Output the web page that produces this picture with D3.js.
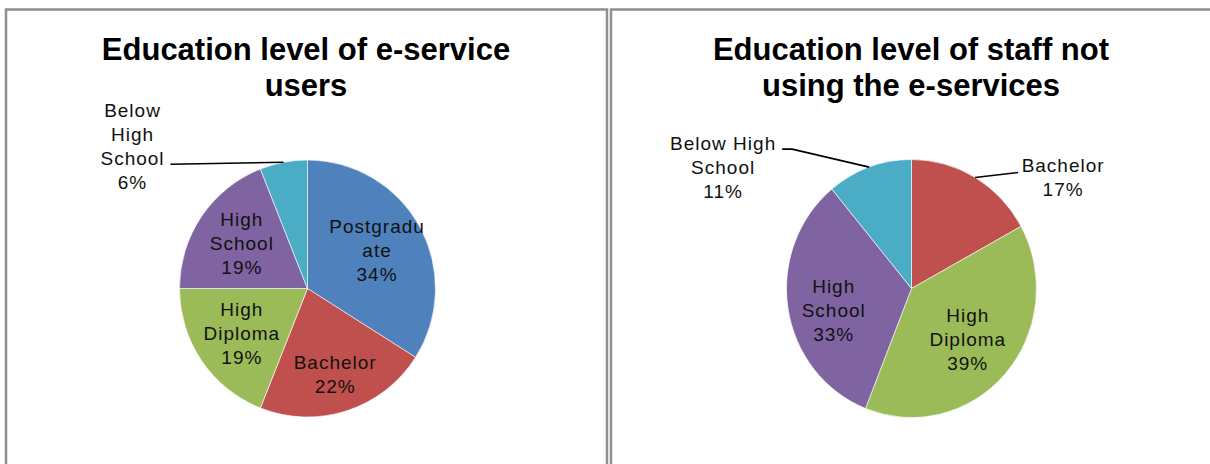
<!DOCTYPE html>
<meta charset="utf-8">
<head>
<style>
body { margin: 0; background: #fff; }
.title {
  font-family: "Liberation Sans", Arial, sans-serif;
  font-size: 31px;
  font-weight: bold;
  text-anchor: middle;
  fill: #000;
}
.label {
  font-family: "Liberation Sans", Arial, sans-serif;
  font-size: 19px;
  letter-spacing: 1px;
  text-anchor: middle;
  fill: #111;
}
.frame { fill: none; stroke: #8f8f8f; stroke-width: 2.5; }
.leader { fill: none; stroke: #000; stroke-width: 1.6; }
</style>
</head>
<body>
<svg width="1210" height="464"></svg>
<script src="https://cdn.jsdelivr.net/npm/d3@7"></script>
<script>

// chart 1: e-service users
var usersCategories = ["Postgraduate", "Bachelor", "High Diploma", "High School", "Below High School"],
    usersValues = [34, 22, 19, 19, 6],
    usersLabels = [["Postgradu", "ate"], ["Bachelor"], ["High", "Diploma"], ["High", "School"], ["Below", "High", "School"]];

// chart 2: staff not using the e-services
var staffCategories = ["Bachelor", "High Diploma", "High School", "Below High School"],
    staffValues = [17, 39, 33, 11],
    staffLabels = [["Bachelor"], ["High", "Diploma"], ["High", "School"], ["Below High", "School"]];

var colors = {
  "Postgraduate": "#4f81bd",
  "Bachelor": "#c0504d",
  "High Diploma": "#9bbb59",
  "High School": "#8064a2",
  "Below High School": "#4bacc6"
};

var svg = d3.select("svg");

// panel frames
svg.append("rect").attr("class", "frame").attr("x", 6).attr("y", 9.5).attr("width", 601).attr("height", 520);
svg.append("rect").attr("class", "frame").attr("x", 611).attr("y", 9.5).attr("width", 601).attr("height", 520);

var charts = [
  {
    title: ["Education level of e-service", "users"],
    tx: 306, cx: 307.5, cy: 288.5, rx: 128, ry: 128.5,
    categories: usersCategories, values: usersValues, labels: usersLabels,
    place: {
      "Postgraduate": {k: 0.62},
      "Bachelor": {k: 0.7},
      "High Diploma": {k: 0.62},
      "High School": {k: 0.62},
      "Below High School": {label: [-151, -16], leader: [[-113, 2]]}
    }
  },
  {
    title: ["Education level of staff not", "using the e-services"],
    tx: 911, cx: 911.5, cy: 288.5, rx: 125, ry: 129,
    categories: staffCategories, values: staffValues, labels: staffLabels,
    place: {
      "Bachelor": {label: [88, 0], leader: [[43, -5]]},
      "High Diploma": {k: 0.6},
      "High School": {k: 0.63, dy: 9},
      "Below High School": {label: [-146, 0], leader: [[-77, -18], [-87, -18]]}
    }
  }
];

var pie = d3.pie().sort(null).value(function(d) { return d.value; });
var lineH = 24;

charts.forEach(function(c) {
  var data = c.categories.map(function(name, i) {
    return {name: name, value: c.values[i], lines: c.labels[i]};
  });
  var arcs = pie(data);
  var total = d3.sum(c.values);

  var g = svg.append("g");

  g.selectAll(".title-line")
      .data(c.title)
    .enter().append("text")
      .attr("class", "title")
      .attr("x", c.tx)
      .attr("y", function(d, i) { return 60 + i * 36; })
      .text(function(d) { return d; });

  var arc = d3.arc().innerRadius(0).outerRadius(c.rx);

  g.append("g")
      .attr("transform", "translate(" + c.cx + "," + c.cy + ") scale(1," + (c.ry / c.rx) + ")")
    .selectAll("path")
      .data(arcs)
    .enter().append("path")
      .attr("d", arc)
      .attr("fill", function(d) { return colors[d.data.name]; })
      .attr("stroke", "#fff")
      .attr("stroke-width", 0.6);

  function polar(a, k) {
    return [c.cx + Math.sin(a) * c.rx * k, c.cy - Math.cos(a) * c.ry * k];
  }

  arcs.forEach(function(d) {
    var p = c.place[d.data.name],
        mid = (d.startAngle + d.endAngle) / 2,
        center;

    if (p.label) {
      var e = polar(mid, 1);
      center = [e[0] + p.label[0], e[1] + p.label[1]];
      var pts = [e].concat(p.leader.map(function(o) { return [e[0] + o[0], e[1] + o[1]]; }));
      g.append("path").attr("class", "leader").attr("d", d3.line()(pts));
    } else {
      center = polar(mid, p.k);
      center[1] += p.dy || 0;
    }

    var lines = d.data.lines.concat([Math.round(d.value / total * 100) + "%"]);
    var top = center[1] - (lines.length - 1) * lineH / 2;

    g.selectAll(null)
        .data(lines)
      .enter().append("text")
        .attr("class", "label")
        .attr("x", center[0])
        .attr("y", function(t, i) { return top + i * lineH; })
        .attr("dy", ".35em")
        .text(function(t) { return t; });
  });
});

</script>
</body>
